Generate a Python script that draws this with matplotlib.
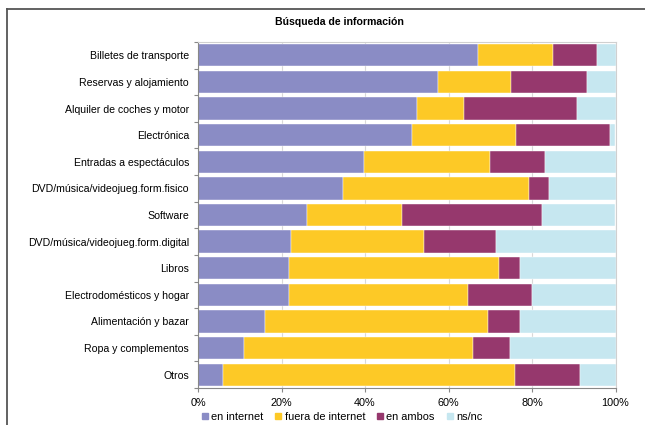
import matplotlib
matplotlib.use("Agg")
import matplotlib.pyplot as plt
from matplotlib.patches import Rectangle
from matplotlib.lines import Line2D
import numpy as np

plt.rcParams['font.family'] = ['Liberation Sans', 'DejaVu Sans']

categories = [
    "Billetes de transporte",
    "Reservas y alojamiento",
    "Alquiler de coches y motor",
    "Electrónica",
    "Entradas a espectáculos",
    "DVD/música/videojueg.form.fisico",
    "Software",
    "DVD/música/videojueg.form.digital",
    "Libros",
    "Electrodomésticos y hogar",
    "Alimentación y bazar",
    "Ropa y complementos",
    "Otros",
]

en_internet = [67.1, 57.4, 52.4, 51.3, 39.7, 34.7, 26.2, 22.3, 21.9, 21.9, 16.0, 10.9, 5.9]
fuera_internet = [18.0, 17.6, 11.2, 24.9, 30.2, 44.6, 22.7, 31.8, 50.1, 42.8, 53.4, 55.0, 70.1]
en_ambos = [10.5, 18.2, 27.1, 22.6, 13.2, 4.8, 33.4, 17.2, 5.2, 15.4, 7.8, 8.8, 15.4]
ns_nc = [100 - a - b - c for a, b, c in zip(en_internet, fuera_internet, en_ambos)]

series = [
    ("en internet", en_internet, "#8A8CC5"),
    ("fuera de internet", fuera_internet, "#FDC926"),
    ("en ambos", en_ambos, "#96386D"),
    ("ns/nc", ns_nc, "#C6E7F0"),
]

x_ticks = [0, 20, 40, 60, 80, 100]
x_tick_labels = ["0%", "20%", "40%", "60%", "80%", "100%"]
title = "Búsqueda de información"

fig = plt.figure(figsize=(6.45, 4.25), dpi=100)
ax = fig.add_axes([198 / 645, 1 - 388 / 425, (615.5 - 198) / 645, (388 - 42) / 425])

y = np.arange(len(categories))
left = np.zeros(len(categories))
for name, vals, color in series:
    vals = np.array(vals)
    ax.barh(y, vals, left=left, height=0.84, color=color, label=name,
            edgecolor="white", linewidth=0.3, zorder=2)
    left += vals

ax.set_xlim(0, 100)
ax.set_ylim(len(categories) - 0.5, -0.5)
ax.set_xticks(x_ticks)
ax.set_xticklabels(x_tick_labels, fontsize=7.8)
ax.set_yticks(y)
ax.set_yticklabels(categories, fontsize=7.6)
ax.tick_params(axis='y', length=0, pad=6.5)
ax.set_yticks(np.arange(len(categories) + 1) - 0.5, minor=True)
ax.tick_params(axis='y', which='minor', length=3, color="#888888", width=0.8)
ax.tick_params(axis='x', length=3, color="#888888", width=0.8, pad=4)
ax.xaxis.grid(True, color="#D8D8D8", linewidth=0.8, zorder=0)
ax.set_axisbelow(True)

for side in ["top", "right"]:
    ax.spines[side].set_color("#D0D0D0")
    ax.spines[side].set_linewidth(0.8)
for side in ["left", "bottom"]:
    ax.spines[side].set_color("#888888")
    ax.spines[side].set_linewidth(0.8)

fig.text(339.5 / 645, 1 - 22 / 425, title, ha="center", va="center",
         fontsize=7.6, fontweight="bold")

# Outer frame around the chart
fig.add_artist(Line2D([7 / 645, 1.0], [1 - 9 / 425, 1 - 9 / 425],
                      transform=fig.transFigure, color="#555555", linewidth=1.3))
fig.add_artist(Line2D([7 / 645, 7 / 645], [0, 1 - 9 / 425],
                      transform=fig.transFigure, color="#555555", linewidth=1.3))

handles = [Rectangle((0, 0), 1, 1, color=c) for _, _, c in series]
labels = [n for n, _, _ in series]
fig.legend(handles, labels, loc="center", bbox_to_anchor=(342 / 645, 1 - 417 / 425),
           ncol=4, frameon=False, fontsize=7.9, handlelength=0.55, handleheight=0.55,
           handletextpad=0.3, columnspacing=1.1, borderpad=0)

fig.savefig("out.png", dpi=100)
